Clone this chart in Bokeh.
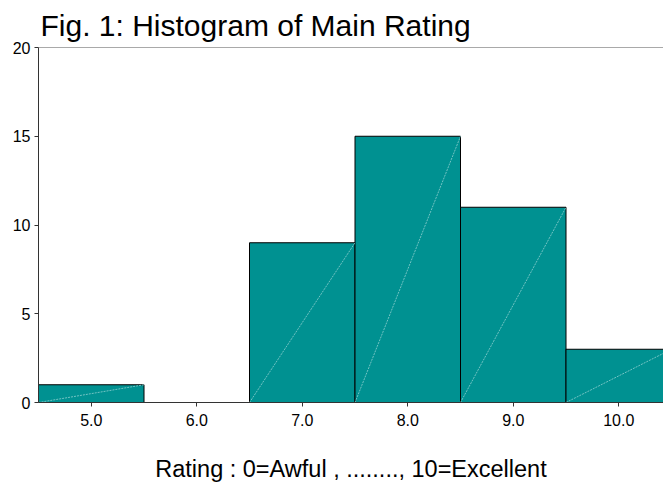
from bokeh.plotting import figure
from bokeh.models import FixedTicker, Span, ColumnDataSource
from bokeh.embed import file_html
from bokeh.resources import INLINE

ratings = [5.0, 6.0, 7.0, 8.0, 9.0, 10.0]
counts = [1, 0, 9, 15, 11, 3]
x_tick_labels = {5: "5.0", 6: "6.0", 7: "7.0", 8: "8.0", 9: "9.0", 10: "10.0"}
y_ticks = [0, 5, 10, 15, 20]

lefts = [r - 0.5 for r in ratings]
rights = [r + 0.5 for r in ratings]
src = ColumnDataSource(dict(left=lefts, right=rights, top=counts, bottom=[0] * len(counts)))

p = figure(width=663, height=484, output_backend="svg", toolbar_location=None,
           x_range=(4.5, 10.424), y_range=(0, 20),
           title="Fig. 1: Histogram of Main Rating")
p.min_border_left = 38
p.min_border_right = 0
p.min_border_top = 47
p.min_border_bottom = 82
p.title.text_font = "Liberation Sans"
p.title.text_font_size = "30px"
p.title.text_font_style = "normal"
p.title.text_color = "#000000"
p.title.offset = -4
p.title.standoff = 0
p.title.padding = 6
p.title.text_line_height = 0.9
p.outline_line_color = None
p.grid.visible = False
p.background_fill_color = "white"
p.border_fill_color = "white"

p.quad(left="left", right="right", top="top", bottom="bottom", source=src,
       fill_color="#009191", line_color="#000000", line_width=1)
nz = [i for i, c in enumerate(counts) if c > 0]
p.segment(x0=[lefts[i] for i in nz], y0=[0] * len(nz), x1=[rights[i] for i in nz],
          y1=[counts[i] for i in nz], line_color="#8fd0d0", line_width=1, line_dash="2 1", line_alpha=0.8)

p.add_layout(Span(location=20, dimension="width", line_color="#555555", line_width=1))

p.xaxis.ticker = FixedTicker(ticks=ratings)
p.xaxis.major_label_overrides = x_tick_labels
p.yaxis.ticker = FixedTicker(ticks=y_ticks)
for ax in (p.xaxis, p.yaxis):
    ax.minor_tick_line_color = None
    ax.major_tick_in = 0
    ax.major_tick_out = 4
    ax.axis_line_color = "#333333"
    ax.major_tick_line_color = "#333333"
    ax.major_label_text_font = "Liberation Sans"
    ax.major_label_text_font_size = "16px"
    ax.major_label_text_color = "#000000"
p.xaxis.axis_label = "Rating : 0=Awful , ........, 10=Excellent"
p.xaxis.axis_label_text_font = "Liberation Sans"
p.xaxis.axis_label_text_font_size = "23.5px"
p.xaxis.axis_label_text_font_style = "normal"
p.xaxis.axis_label_text_color = "#000000"
p.xaxis.axis_label_standoff = 27
p.xaxis.major_label_standoff = 7
p.yaxis.major_label_standoff = 4

open("out.html", "w").write(file_html(p, INLINE))
